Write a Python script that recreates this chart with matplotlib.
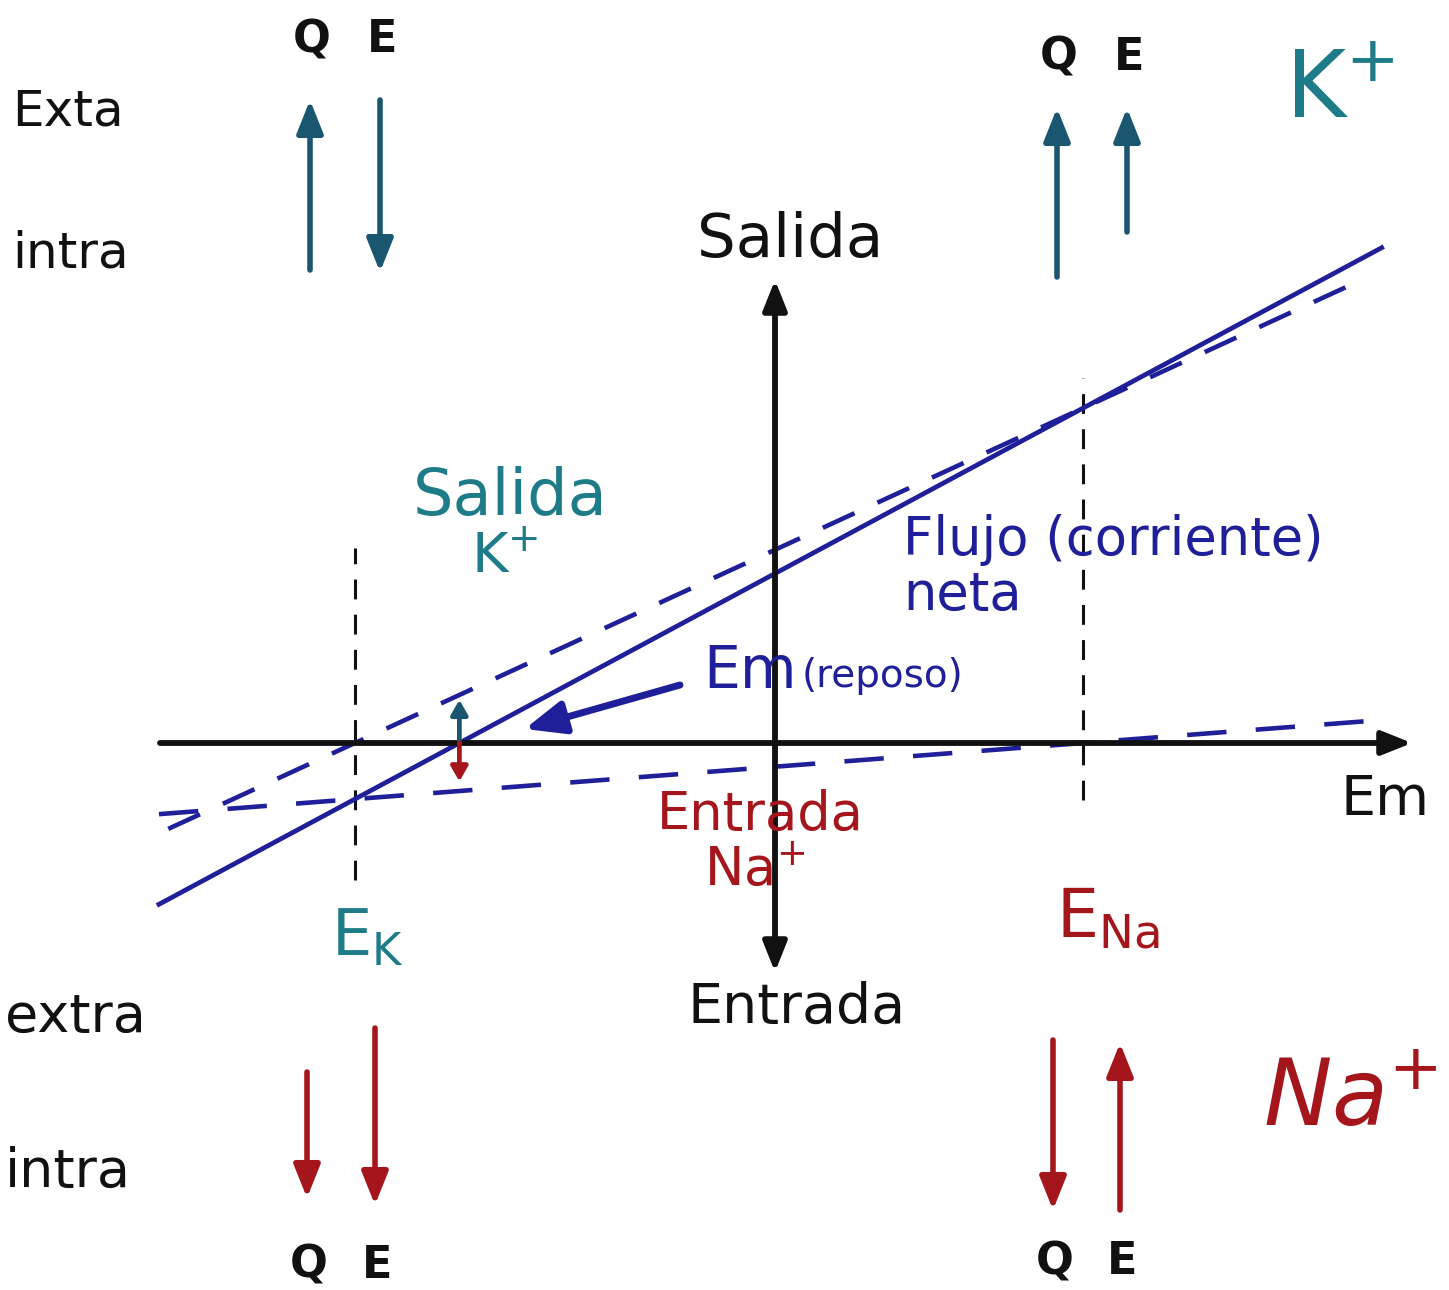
import numpy as np
import matplotlib
matplotlib.use("Agg")
import matplotlib.pyplot as plt

# Reversal potentials (mV) and slope conductances (arbitrary units)
E_K = -90.0
E_Na = 66.0
g_K = 0.46
g_Na = 0.077

# Voltage range for the current lines
v_net = np.array([-132.0, 130.0])
v_k = np.array([-130.0, 126.0])
v_na = np.array([-132.0, 130.0])

# Direction of the chemical (Q) and electrical (E) driving forces
flux_labels = ['Q', 'E']
k_dirs = {'E_K': ['up', 'down'], 'E_Na': ['up', 'up']}
na_dirs = {'E_K': ['down', 'down'], 'E_Na': ['down', 'up']}

W, H = 1449, 1290
PX = 4.667          # pixels per mV
X_ORG, Y_ORG = 775, 743

BLACK = '#111111'
BLUE = '#1f1f99'
TEAL = '#1d7c87'
TEAL_DARK = '#1b5670'
RED = '#a5151c'


def fxy(x, y):
    # pixel position -> figure fraction
    return (x / W, 1 - y / H)


def i_k(v):
    return g_K * (v - E_K)


def i_na(v):
    return g_Na * (v - E_Na)


E_rest = (g_K * E_K + g_Na * E_Na) / (g_K + g_Na)

fig = plt.figure(figsize=(W / 100, H / 100), dpi=100)
ax = fig.add_axes([0, 0, 1, 1])
ax.set_xlim(-X_ORG / PX, (W - X_ORG) / PX)
ax.set_ylim(-(H - Y_ORG) / PX, Y_ORG / PX)
ax.axis('off')

# axes of the I-V plot
head = 'head_length=0.45,head_width=0.18'
ax.annotate('', xy=((1412 - X_ORG) / PX, 0), xytext=((160 - X_ORG) / PX, 0),
            arrowprops=dict(arrowstyle='-|>,' + head, lw=4.2, color=BLACK,
                            mutation_scale=40, shrinkA=0, shrinkB=0))
ax.annotate('', xy=(0, (Y_ORG - 280) / PX), xytext=(0, (Y_ORG - 972) / PX),
            arrowprops=dict(arrowstyle='<|-|>,' + head, lw=4.2, color=BLACK,
                            mutation_scale=40, shrinkA=0, shrinkB=0))

# reversal potential markers
ax.vlines(E_K, -29.4, 41.8, colors=BLACK, lw=2.2, linestyles=(0, (6.5, 5)))
ax.vlines(E_Na, -12.2, 78.2, colors=BLACK, lw=2.2, linestyles=(0, (6.5, 5)))

# K+, Na+ and net currents
ax.plot(v_k, i_k(v_k), color=BLUE, lw=3.3, ls=(0, (7.6, 5.5)))
ax.plot(v_na, i_na(v_na), color=BLUE, lw=3.3, ls=(0, (8.6, 6.4)))
ax.plot(v_net, i_k(v_net) + i_na(v_net), color=BLUE, lw=3.4)

# components at resting potential
small = 'head_length=0.35,head_width=0.2'
ax.annotate('', xy=(E_rest, i_k(E_rest) * 0.9), xytext=(E_rest, 0),
            arrowprops=dict(arrowstyle='-|>,' + small, lw=3.4, color=TEAL_DARK,
                            mutation_scale=25, shrinkA=0, shrinkB=0))
ax.annotate('', xy=(E_rest, i_na(E_rest) * 0.8), xytext=(E_rest, 0),
            arrowprops=dict(arrowstyle='-|>,' + small, lw=3.4, color=RED,
                            mutation_scale=25, shrinkA=0, shrinkB=0))

# pointer to the resting potential
ax.annotate('', xy=(E_rest + 14, 3), xytext=fxy(680, 685),
            textcoords='figure fraction',
            arrowprops=dict(arrowstyle='-|>,head_length=0.6,head_width=0.25',
                            lw=5, color=BLUE, mutation_scale=40,
                            shrinkA=0, shrinkB=0))

# driving force arrows, layout in pixels: x of Q/E arrows and their spans
groups = [
    (k_dirs['E_K'], [310, 380], [(100, 270), (100, 272)], TEAL_DARK, 40),
    (k_dirs['E_Na'], [1057, 1127], [(108, 277), (108, 232)], TEAL_DARK, 57),
    (na_dirs['E_K'], [307, 375], [(1072, 1198), (1028, 1205)], RED, 1265),
    (na_dirs['E_Na'], [1053, 1120], [(1040, 1210), (1043, 1210)], RED, 1262),
]
for dirs, xs, spans, col, label_y in groups:
    for d, x, (top, bot), lab in zip(dirs, xs, spans, flux_labels):
        tip, tail = (top, bot) if d == 'up' else (bot, top)
        ax.annotate('', xy=fxy(x, tip), xytext=fxy(x, tail),
                    xycoords='figure fraction', textcoords='figure fraction',
                    arrowprops=dict(arrowstyle='-|>,head_length=0.5,head_width=0.2',
                                    lw=4, color=col, mutation_scale=40,
                                    shrinkA=0, shrinkB=0))
        fig.text(*fxy(x + 2, label_y), lab, ha='center', va='center',
                 fontsize=32, fontweight='bold', color=BLACK)

# side labels
fig.text(*fxy(12, 112), 'Exta', fontsize=36, color=BLACK, va='center')
fig.text(*fxy(12, 254), 'intra', fontsize=36, color=BLACK, va='center')
fig.text(*fxy(5, 1018), 'extra', fontsize=39, color=BLACK, va='center')
fig.text(*fxy(5, 1172), 'intra', fontsize=39, color=BLACK, va='center')

# axis labels
fig.text(*fxy(790, 240), 'Salida', fontsize=44, color=BLACK,
         ha='center', va='center')
fig.text(*fxy(797, 1008), 'Entrada', fontsize=40, color=BLACK,
         ha='center', va='center')
fig.text(*fxy(1385, 800), 'Em', fontsize=40, color=BLACK,
         ha='center', va='center')

# ion labels
fig.text(*fxy(1340, 92), r'K$^{+}$', fontsize=66, color=TEAL,
         ha='center', va='center')
fig.text(*fxy(1350, 1100), r'Na$^{+}$', fontsize=66, color=RED,
         ha='center', va='center', style='italic')
fig.text(*fxy(510, 497), 'Salida', fontsize=46, color=TEAL,
         ha='center', va='center')
fig.text(*fxy(505, 558), r'K$^{+}$', fontsize=40, color=TEAL,
         ha='center', va='center')
fig.text(*fxy(760, 815), 'Entrada', fontsize=38, color=RED,
         ha='center', va='center')
fig.text(*fxy(755, 870), r'Na$^{+}$', fontsize=38, color=RED,
         ha='center', va='center')
fig.text(*fxy(368, 937), r'E$_{\mathrm{K}}$', fontsize=46, color=TEAL,
         ha='center', va='center')
fig.text(*fxy(1108, 918), r'E$_{\mathrm{Na}}$', fontsize=48, color=RED,
         ha='center', va='center')

# current labels
fig.text(*fxy(903, 540), 'Flujo (corriente)', fontsize=38, color=BLUE,
         va='center')
fig.text(*fxy(903, 596), 'neta', fontsize=38, color=BLUE, va='center')
fig.text(*fxy(703, 672), 'Em', fontsize=42, color=BLUE, va='center')
fig.text(*fxy(802, 676), '(reposo)', fontsize=28, color=BLUE, va='center')

fig.savefig('out.png', dpi=100, facecolor='white')
